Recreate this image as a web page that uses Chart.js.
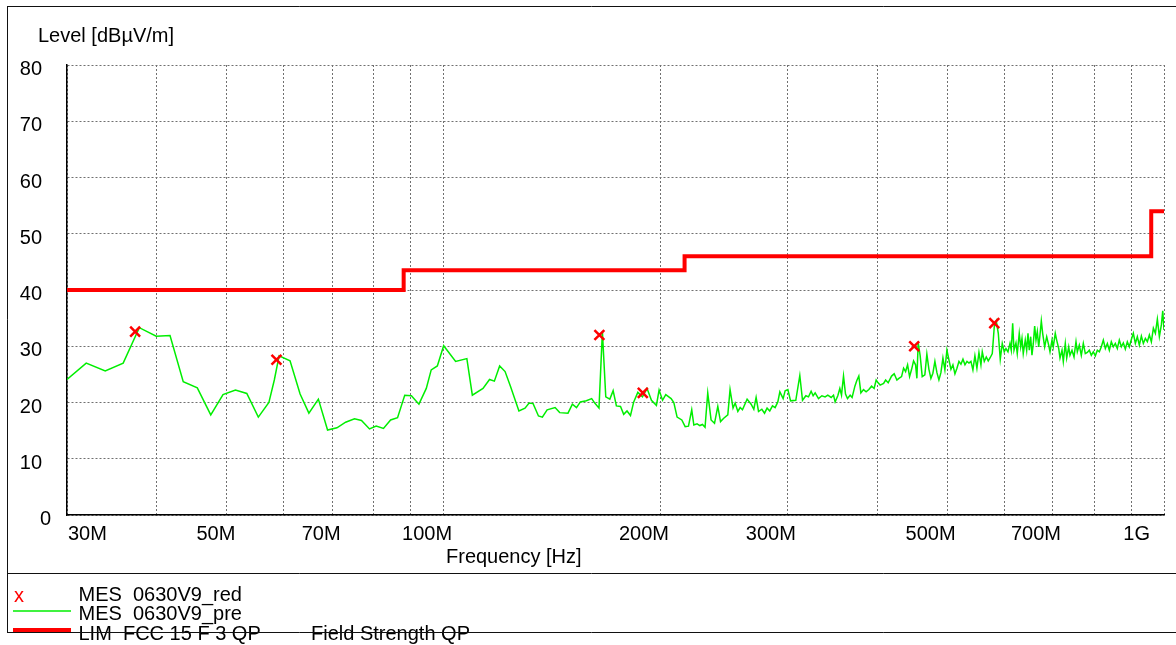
<!DOCTYPE html>
<html>
<head>
<meta charset="utf-8">
<script src="https://cdn.jsdelivr.net/npm/chart.js@4.4.0/dist/chart.umd.min.js"></script>
<style>
  html, body { margin: 0; padding: 0; background: #ffffff; }
  canvas { display: block; }
</style>
</head>
<body>
<canvas id="emc" width="1176" height="645"></canvas>
<script>
// Pre-scan trace (frequency in MHz, level in dBµV/m)
const traceFreqMHz = [
  30.0, 31.9, 33.9, 35.9, 37.8, 39.9, 41.7, 43.5, 45.5, 47.5, 49.4, 51.4, 53.3, 55.3, 57.2, 58.2, 59.1,
  61.2, 63.2, 65.0, 67.0, 69.0, 71.1, 73.1, 75.2, 76.9, 78.9, 80.6, 82.5, 84.4, 86.3, 88.3, 90.2, 92.4,
  94.6, 96.1, 98.0, 100.0, 103.9, 107.7, 109.6, 113.4, 115.8, 117.6, 119.6, 121.7, 123.8, 127.2, 129.7,
  131.4, 133.1, 135.4, 137.1, 139.2, 142.8, 144.9, 148.8, 150.9, 152.9, 154.8, 157.8, 160.5, 162.1, 164.3,
  166.1, 167.9, 170.1, 171.9, 173.7, 176.0, 177.8, 179.7, 181.7, 183.6, 186.0, 188.8, 191.6, 194.3, 197.4,
  199.1, 201.3, 203.4, 206.9, 208.7, 210.9, 214.1, 216.4, 218.7, 221.0, 222.5, 224.8, 226.8, 228.7, 230.6,
  232.6, 235.1, 237.7, 240.2, 242.3, 244.8, 248.0, 249.8, 252.2, 253.9, 256.1, 258.0, 259.9, 263.8, 267.2,
  269.5, 271.5, 273.6, 276.5, 278.9, 281.2, 283.6, 286.1, 288.5, 291.0, 292.9, 296.0, 297.9, 300.5, 303.1,
  308.2, 312.2, 314.9, 318.3, 321.0, 323.7, 325.8, 327.9, 331.4, 335.0, 338.5, 341.4, 345.1, 347.7, 349.5,
  352.5, 354.8, 356.7, 359.0, 361.3, 363.6, 366.7, 369.0, 372.3, 374.6, 377.0, 379.5, 382.7, 385.9, 389.3,
  392.7, 395.9, 398.5, 401.0, 403.6, 408.1, 410.7, 414.1, 418.6, 422.1, 425.8, 428.5, 432.2, 435.0, 437.8,
  440.6, 443.4, 446.3, 449.1, 452.0, 453.9, 455.8, 458.7, 461.7, 465.6, 468.6, 471.7, 474.7, 477.7, 480.8,
  483.9, 487.0, 490.1, 493.3, 496.4, 499.6, 502.8, 506.1, 509.3, 512.6, 515.9, 519.2, 522.5, 525.9, 529.3,
  532.7, 536.1, 539.5, 542.9, 546.4, 549.9, 553.5, 557.0, 559.4, 563.0, 566.6, 570.2, 573.9, 577.6, 581.3,
  585.0, 588.8, 592.5, 596.3, 600.1, 603.4, 607.3, 611.2, 613.7, 616.5, 619.1, 623.0, 625.6, 629.6, 632.5,
  635.1, 637.7, 641.8, 644.7, 647.4, 650.1, 653.0, 655.7, 658.5, 661.4, 664.2, 667.0, 670.0, 672.7, 675.6,
  678.5, 682.9, 687.3, 691.7, 694.6, 699.1, 701.9, 706.4, 709.6, 714.2, 717.2, 721.8, 724.8, 729.4, 732.7,
  737.4, 740.4, 745.2, 750.0, 754.8, 758.0, 762.8, 767.7, 772.7, 777.6, 782.6, 787.6, 792.7, 797.8, 802.9,
  808.1, 813.3, 818.5, 823.7, 829.0, 834.4, 839.7, 845.0, 850.4, 855.9, 861.4, 866.9, 872.5, 878.1, 883.7,
  889.4, 895.1, 900.9, 906.6, 912.5, 918.3, 924.2, 930.2, 936.1, 942.1, 948.2, 954.3, 960.4, 966.6, 972.8,
  979.0, 985.3, 991.6, 996.0, 1000.0
];
const traceLevel = [
  24.1, 27.0, 25.6, 27.0, 33.3, 31.8, 31.9, 23.7, 22.6, 17.8, 21.4, 22.2, 21.6, 17.4, 20.0, 24.0, 28.3,
  27.4, 21.5, 18.1, 20.6, 15.1, 15.5, 16.5, 17.1, 16.8, 15.3, 15.8, 15.4, 16.9, 17.3, 21.3, 21.2, 19.7,
  22.5, 25.8, 26.5, 30.1, 27.3, 27.8, 21.3, 22.5, 24.1, 23.8, 26.5, 25.5, 22.9, 18.5, 19.0,
  19.9, 19.8, 17.6, 17.4, 18.7, 19.1, 18.2, 18.1, 19.7, 19.1, 20.1, 20.3, 20.7, 19.9, 19.0,
  32.6, 21.0, 20.6, 22.1, 19.4, 19.3, 17.9, 18.5, 17.7, 20.1, 21.8, 21.0, 22.5, 20.4, 19.5,
  22.2, 20.4, 21.4, 20.7, 20.0, 17.4, 16.9, 15.7, 15.8, 18.7, 16.0, 16.2, 15.9, 16.1, 15.6,
  21.7, 16.9, 16.3, 19.3, 16.6, 17.2, 17.8, 22.3, 19.0, 19.9, 18.4, 19.1, 18.7, 20.6, 19.7,
  18.8, 20.9, 18.4, 18.8, 18.1, 19.0, 18.5, 19.4, 19.1, 20.1, 21.9, 20.7, 22.1, 22.3, 20.3,
  20.4, 24.8, 20.4, 21.2, 21.0, 22.0, 21.2, 21.7, 20.7, 21.2, 21.0, 21.3, 20.9, 21.3, 20.1,
  21.2, 22.5, 21.3, 24.7, 21.5, 20.7, 21.3, 20.9, 22.9, 23.9, 24.7, 21.7, 22.3, 21.9, 22.3,
  22.9, 22.5, 24.0, 23.5, 23.1, 23.4, 24.0, 23.5, 24.7, 25.1, 24.0, 24.3, 24.6, 26.1, 25.5,
  26.7, 24.6, 25.9, 27.4, 26.7, 24.3, 30.6, 28.3, 24.6, 24.9, 28.6, 25.9, 24.3, 25.2, 27.3,
  25.3, 24.0, 25.3, 27.9, 25.8, 29.3, 27.6, 25.9, 26.7, 25.1, 26.1, 27.3, 26.8, 27.7, 26.7,
  27.3, 27.0, 27.3, 25.8, 28.3, 26.1, 28.9, 26.7, 29.0, 27.3, 28.1, 27.4, 28.0, 28.7, 33.5,
  34.5, 32.3, 27.7, 30.5, 29.0, 29.6, 29.0, 30.5, 29.3, 34.1, 29.3, 30.6, 28.7, 32.3, 29.9,
  31.4, 28.7, 31.1, 29.3, 32.3, 29.3, 31.7, 28.4, 30.5, 33.6, 31.1, 32.6, 29.9, 32.0, 34.5,
  32.3, 29.9, 31.7, 30.2, 29.0, 31.1, 29.9, 32.3, 31.1, 29.6, 27.9, 29.3, 27.3, 30.5, 27.9,
  29.9, 28.4, 29.3, 28.1, 30.8, 29.0, 30.2, 28.4, 30.5, 28.7, 28.9, 29.3, 28.4, 29.0, 28.3,
  29.3, 29.0, 29.9, 31.1, 29.6, 30.5, 29.3, 30.8, 29.9, 30.5, 29.6, 31.1, 29.9, 30.6, 29.5,
  30.8, 29.9, 31.2, 32.3, 30.5, 31.7, 30.2, 31.8, 30.5, 31.4, 30.8, 32.0, 30.8, 33.2, 32.3,
  34.8, 31.7, 33.8, 36.3, 32.9
];

// Final measurement points
const peakFreqMHz = [37.3, 58.6, 164.5, 189.0, 450.0, 581.3];
const peakLevel = [32.6, 27.6, 32.0, 21.7, 30.0, 34.1];

// FCC 15 class B limit, quasi-peak, 3 m (each level holds up to the next frequency)
const limitFreqMHz = [30, 88, 88, 216, 216, 960, 960, 1000];
const limitLevel = [40, 40, 43.5, 43.5, 46, 46, 54, 54];

// Axes
const xGridMHz = [30, 40, 50, 60, 70, 80, 90, 100, 200, 300, 400, 500, 600, 700, 800, 900, 1000];
const xLabelMHz = [30, 50, 70, 100, 200, 300, 500, 700, 1000];
const xLabelText = ['30M', '50M', '70M', '100M', '200M', '300M', '500M', '700M', '1G'];
const yTickValues = [0, 10, 20, 30, 40, 50, 60, 70, 80];
const yAxisTitle = 'Level [dBµV/m]';
const xAxisTitle = 'Frequency [Hz]';

// Legend rows
const legendLabels = ['MES  0630V9_red', 'MES  0630V9_pre', 'LIM  FCC 15 F 3 QP'];
const legendExtra = 'Field Strength QP';

const FONT = '20px "Liberation Sans", Arial, sans-serif';
const RED = '#ff0000';
const GREEN = '#00ee00';

const toPoints = (xs, ys) => xs.map((x, i) => ({ x: x, y: ys[i] }));

// Tick labels, titles, frame and legend block
const decorations = {
  id: 'decorations',
  afterDraw(chart) {
    const ctx = chart.ctx;
    const area = chart.chartArea;
    const xs = chart.scales.x;
    const ys = chart.scales.y;
    ctx.save();
    ctx.font = FONT;
    ctx.fillStyle = '#000';
    ctx.textBaseline = 'alphabetic';

    // y tick labels
    ctx.textAlign = 'right';
    yTickValues.forEach(v => {
      const py = ys.getPixelForValue(v);
      const rx = v === 0 ? area.left - 16 : area.left - 25;
      ctx.fillText(String(v), rx, py + 10);
    });

    // x tick labels: right edge just past the grid line, kept inside the plot width
    xLabelMHz.forEach((v, i) => {
      const txt = xLabelText[i];
      const w = ctx.measureText(txt).width;
      const px = xs.getPixelForValue(v);
      let right = px + 8.5;
      if (right - w < area.left) right = area.left + 1 + w;
      if (right > area.right - 12) right = area.right - 14;
      ctx.textAlign = 'right';
      ctx.fillText(txt, right, area.bottom + 24.5);
    });

    // axis titles
    ctx.textAlign = 'left';
    ctx.fillText(yAxisTitle, 38, 41.7);
    ctx.fillText(xAxisTitle, 446, 562.7);

    // legend
    ctx.fillStyle = RED;
    ctx.fillText('x', 14, 602);
    ctx.fillStyle = '#000';
    ctx.fillText(legendLabels[0], 78.5, 601.3);
    ctx.fillText(legendLabels[1], 78.5, 620);
    ctx.fillText(legendLabels[2], 78.5, 639.5);
    ctx.fillText(legendExtra, 311, 639.5);

    ctx.lineCap = 'butt';
    ctx.strokeStyle = GREEN;
    ctx.lineWidth = 1.5;
    ctx.beginPath(); ctx.moveTo(13, 611); ctx.lineTo(71, 611); ctx.stroke();
    ctx.strokeStyle = RED;
    ctx.lineWidth = 4;
    ctx.beginPath(); ctx.moveTo(13, 630); ctx.lineTo(71, 630); ctx.stroke();

    // frame
    ctx.strokeStyle = '#111';
    ctx.lineWidth = 1;
    ctx.beginPath();
    ctx.moveTo(7, 6.5); ctx.lineTo(1176, 6.5);
    ctx.moveTo(7.5, 6.5); ctx.lineTo(7.5, 633);
    ctx.moveTo(7, 573.5); ctx.lineTo(1176, 573.5);
    ctx.moveTo(7, 632.5); ctx.lineTo(1176, 632.5);
    ctx.stroke();
    ctx.restore();
  }
};

new Chart(document.getElementById('emc'), {
  type: 'scatter',
  data: {
    datasets: [
      {
        label: legendLabels[0],
        data: toPoints(peakFreqMHz, peakLevel),
        showLine: false,
        pointStyle: 'crossRot',
        pointRadius: 7,
        pointBorderWidth: 2.5,
        borderColor: RED,
        backgroundColor: RED
      },
      {
        label: legendLabels[1],
        data: toPoints(traceFreqMHz, traceLevel),
        showLine: true,
        borderColor: GREEN,
        borderWidth: 1.5,
        pointRadius: 0,
        tension: 0
      },
      {
        label: legendLabels[2],
        data: toPoints(limitFreqMHz, limitLevel),
        showLine: true,
        borderColor: RED,
        borderWidth: 4,
        borderJoinStyle: 'miter',
        pointRadius: 0
      }
    ]
  },
  options: {
    responsive: false,
    animation: false,
    devicePixelRatio: 1,
    layout: { padding: { left: 67, right: 12, top: 65, bottom: 130 } },
    plugins: { legend: { display: false }, tooltip: { enabled: false } },
    scales: {
      x: {
        type: 'logarithmic',
        min: 30,
        max: 1000,
        afterBuildTicks: scale => { scale.ticks = xGridMHz.map(v => ({ value: v })); },
        ticks: { display: false },
        grid: { color: '#707070', lineWidth: 1, drawTicks: false },
        border: { display: true, color: '#000', width: 1.5, dash: [2, 2] }
      },
      y: {
        min: 0,
        max: 80,
        afterBuildTicks: scale => { scale.ticks = yTickValues.map(v => ({ value: v })); },
        ticks: { display: false },
        grid: { color: '#707070', lineWidth: 1, drawTicks: false },
        border: { display: true, color: '#000', width: 1.5, dash: [2, 2] }
      }
    }
  },
  plugins: [decorations]
});
</script>
</body>
</html>
